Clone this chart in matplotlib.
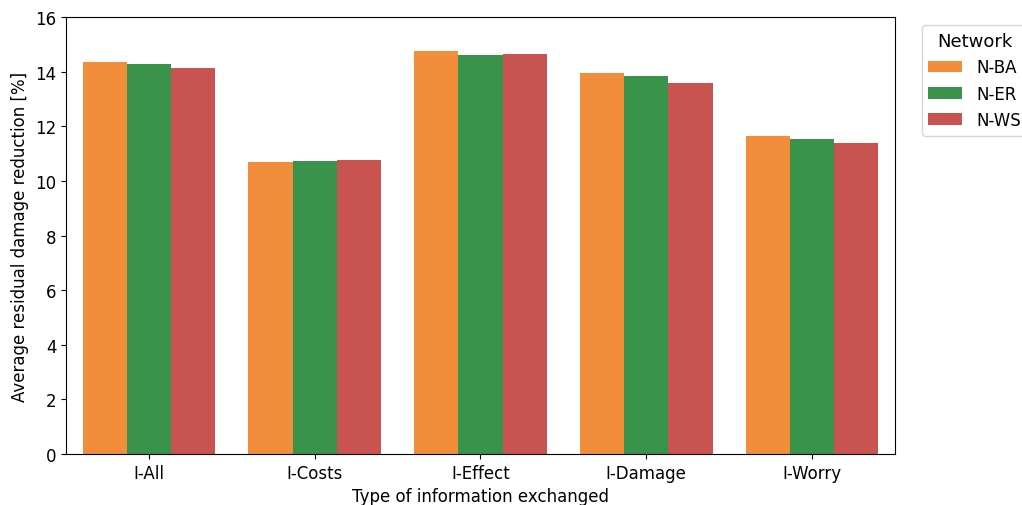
import matplotlib
matplotlib.use("Agg")
import matplotlib.pyplot as plt
import pandas as pd
import seaborn as sns

# Values
info_types = ['I-All', 'I-Costs', 'I-Effect', 'I-Damage', 'I-Worry']
networks = ['N-BA', 'N-ER', 'N-WS']
n_ba = [14.34, 10.70, 14.77, 13.95, 11.65]
n_er = [14.28, 10.72, 14.62, 13.85, 11.52]
n_ws = [14.15, 10.77, 14.63, 13.57, 11.40]

net_colors = ['#F28E3B', '#3A934A', '#C95350']

rows = []
for net, vals in zip(networks, [n_ba, n_er, n_ws]):
    for info, v in zip(info_types, vals):
        rows.append({'Information': info, 'Network': net, 'Reduction': v})
df = pd.DataFrame(rows)

plt.rcParams['font.size'] = 12

fig = plt.figure(figsize=(10.22, 5.06), dpi=100)
ax = fig.add_axes([0.0646, 0.1008, 0.8111, 0.8636])

sns.barplot(data=df, x='Information', y='Reduction', hue='Network',
            palette=net_colors, saturation=1, ax=ax, errorbar=None)

ax.set_ylim(0, 16)
ax.set_xlabel('Type of information exchanged')
ax.set_ylabel('Average residual damage reduction [%]')
ax.legend(title='Network', loc='upper left', bbox_to_anchor=(1.022, 1.0),
          title_fontsize=13, handletextpad=0.9)

fig.savefig('out.png', dpi=100)
